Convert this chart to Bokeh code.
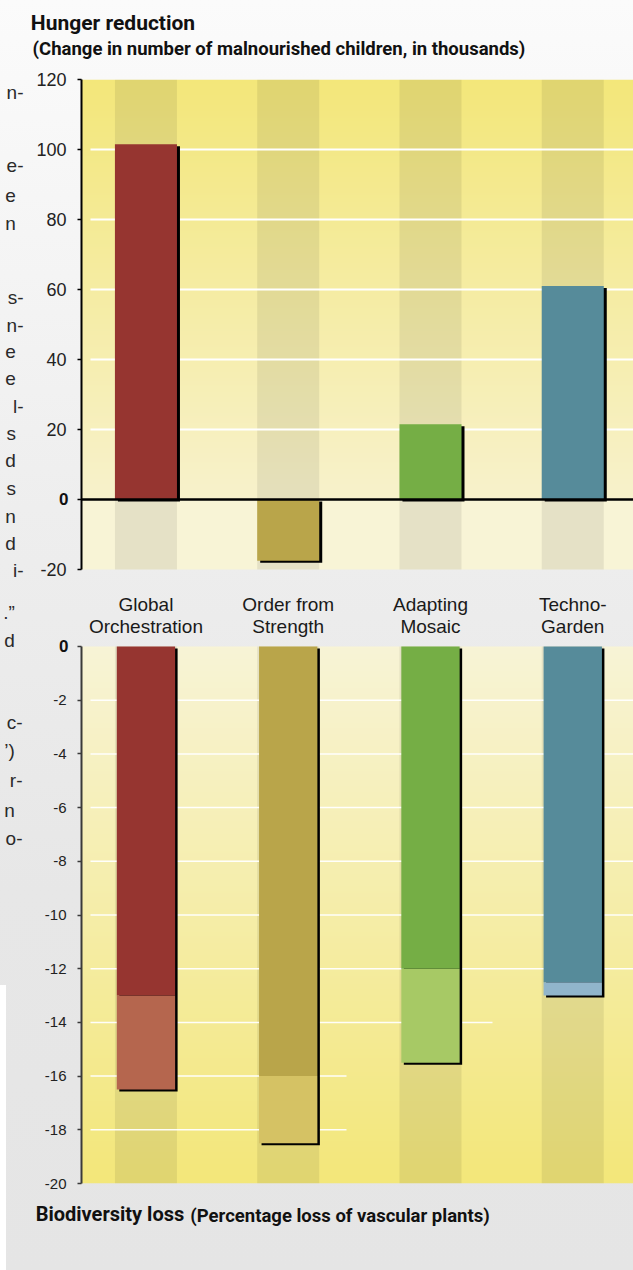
import numpy as np
from bokeh.plotting import figure
from bokeh.models import Range1d, LinearAxis, FixedTicker, Span, ColumnDataSource
from bokeh.core.properties import value
from bokeh.layouts import column
from bokeh.transform import dodge
from bokeh.embed import file_html
from bokeh.resources import INLINE

# ---------------- data ----------------
scenarios = ["Global Orchestration", "Order from Strength", "Adapting Mosaic", "Techno-Garden"]
label_line1 = ["Global", "Order from", "Adapting", "Techno-"]
label_line2 = ["Orchestration", "Strength", "Mosaic", "Garden"]
hunger_change = [101.5, -17.5, 21.5, 61.0]          # change in malnourished children (thousands)
biodiv_loss_core = [-13.0, -16.0, -12.0, -12.5]      # % loss of vascular plants (dark part)
biodiv_loss_full = [-16.5, -18.5, -15.5, -13.0]      # % loss of vascular plants (light extension)
hunger_ticks = [-20, 0, 20, 40, 60, 80, 100, 120]
biodiv_ticks = [0, -2, -4, -6, -8, -10, -12, -14, -16, -18, -20]
dark_colors = ["#963530", "#b9a54a", "#75ae45", "#568b9a"]
light_colors = ["#b5664e", "#d5c264", "#a7c965", "#91b5cb"]
margin_fragments = ["r-", "n-", "e-", "e", "n", "s-", "n-", "e", "e", "l-", "s", "d", "s",
                    "n", "d", "i-", ".\u201d", "d", "c-", "\u2019)", "r-", "n", "o-"]
title_top = "Hunger reduction"
subtitle_top = "(Change in number of malnourished children, in thousands)"
title_bottom = "Biodiversity loss"
subtitle_bottom = "(Percentage loss of vascular plants)"

# ---------------- layout constants ----------------
W = 633
HA = 580
HB = 1270 - HA
XR = (-0.453, 3.427)
FONT = "Liberation Sans"
TFONT = "Roboto"
frag_y = [62, 92, 165, 195, 223, 297, 325, 351, 378, 406, 433, 460, 488, 516, 543, 572,
          612, 640, 722, 750, 780, 810, 838]

idx = list(range(len(scenarios)))
SX = (W - 81) / (XR[1] - XR[0])


def pyA(py):            # page y -> data y in the hunger chart (0 at 499, 3.5 px/unit)
    return round(120 - (py - 79) * 140 / 490, 4)


def pyB(py):            # page y -> data y in the biodiversity chart (0 at 646, 26.85 px/unit)
    return round(-(py - 646) * 20 / 537, 4)


def px2x(px):
    return XR[0] + (px - 81) / SX


def gradient(stops, n=280):
    img = np.zeros((n, 1), dtype=np.uint32)
    view = img.view(dtype=np.uint8).reshape((n, 1, 4))
    fr = np.linspace(0, 1, n)
    fs = [s[0] for s in stops]
    for c in range(3):
        view[:, 0, c] = np.interp(fr, fs, [s[1][c] for s in stops]).astype(np.uint8)
    view[:, 0, 3] = 255
    return img


def base_fig(h, yr, top, bottom):
    p = figure(width=W, height=h, x_range=Range1d(*XR), y_range=Range1d(*yr),
               output_backend="svg", toolbar_location=None,
               x_axis_location=None, y_axis_location=None,
               min_border_left=81, min_border_right=0,
               min_border_top=top, min_border_bottom=bottom,
               border_fill_color=None, background_fill_color=None,
               outline_line_color=None)
    p.grid.visible = False
    return p


def plain_axis(ticks, labels, size, standoff, **kw):
    opts = dict(ticker=FixedTicker(ticks=ticks),
                major_label_overrides=dict(zip(ticks, labels)),
                axis_line_color=None, major_tick_line_color=None,
                major_tick_in=0, major_tick_out=0, minor_tick_line_color=None,
                major_label_text_font=FONT, major_label_text_font_size=size,
                major_label_text_color="#222222", major_label_standoff=standoff)
    opts.update(kw)
    return LinearAxis(**opts)


def title_axis(center_px, text, size, standoff):
    return plain_axis([round(px2x(center_px), 4)], [text], size, standoff,
                      major_label_text_font=TFONT, major_label_text_font_style="bold",
                      major_label_text_color="#111111")


def frag_text(t):
    # letters of the cut-off column end short of the hanging hyphens
    return t if t.endswith("-") else t + "\u2009\u2009"


def left_axes(p, ticks, size, line_color, frag_ys, frag_texts, frag_standoff):
    bounds = (min(ticks), max(ticks))
    # innermost: axis line, tick marks and the bold zero
    p.add_layout(plain_axis(ticks, ["0" if t == 0 else "" for t in ticks], "17px", 9,
                            bounds=bounds,
                            axis_line_color=line_color, axis_line_width=2,
                            major_tick_line_color=line_color, major_tick_line_width=1.5,
                            major_tick_out=4, major_label_text_font_style="bold",
                            major_label_text_color="#111111"), "left")
    # numeric tick labels
    nz = [t for t in ticks if t != 0]
    p.add_layout(plain_axis(nz, [str(t) for t in nz], size, -10, bounds=bounds), "left")
    # cut-off text of the neighbouring column
    p.add_layout(plain_axis(frag_ys, [frag_text(t) for t in frag_texts], "19px", frag_standoff,
                            major_label_text_color="#2a2a2a"), "left")


# ---------------- top chart: hunger ----------------
pA = base_fig(HA, (pyA(HA), 120), 79, 0)
imgA = gradient([(0.0, (248, 244, 214)), (0.1425, (248, 244, 214)),
                 (0.1435, (248, 242, 204)), (1.0, (243, 231, 122))])
pA.image_rgba(image=[imgA], x=XR[0], y=-20, dw=XR[1] - XR[0], dh=140, level="image")
pA.vbar(x=idx, width=0.436, top=120, bottom=-20, fill_color="black", fill_alpha=0.075,
        line_color=None, level="image")
gl = [t for t in hunger_ticks if 0 < t < 120]
pA.segment(x0=[px2x(90)] * len(gl), x1=[XR[1]] * len(gl), y0=gl, y1=gl,
           line_color="white", line_width=2, level="underlay")

srcA = ColumnDataSource(dict(x=idx, top=[max(v, 0) for v in hunger_change],
                             bottom=[min(v, 0) for v in hunger_change], color=dark_colors))
dxA, dyA = 3 / SX, 2 * 140 / 490
pA.vbar(x=dodge("x", dxA), width=0.436, top=dodge("top", -dyA), bottom=dodge("bottom", -dyA),
        source=srcA, fill_color="black", line_color=None)
pA.vbar(x="x", width=0.436, top="top", bottom="bottom", source=srcA,
        fill_color="color", line_color=None)
pA.add_layout(Span(location=0, dimension="width", line_color="black", line_width=2.5))

fragA = [(y, t) for y, t in zip(frag_y, margin_fragments) if 79 <= y < HA]
left_axes(pA, hunger_ticks, "18px", "black",
          [pyA(y) for y, _ in fragA], [t for _, t in fragA], 10)

pA.add_layout(title_axis(278.5, subtitle_top, "18.5px", 20), "above")
pA.add_layout(title_axis(112.5, title_top, "21px", 0), "above")

# ---------------- bottom chart: biodiversity ----------------
pB = base_fig(HB, (-20, pyB(HA)), 0, 1270 - 1183)
imgB = gradient([(0.0, (243, 231, 122)), (1.0, (248, 244, 214))])
pB.image_rgba(image=[imgB], x=XR[0], y=-20, dw=XR[1] - XR[0], dh=20, level="image")
pB.vbar(x=idx, width=0.436, top=0, bottom=-20, fill_color="black", fill_alpha=0.075,
        line_color=None, level="image")
glB = [t for t in biodiv_ticks if -20 < t < 0]
grid_end = {-14: px2x(492), -16: px2x(346), -18: px2x(346)}
pB.segment(x0=[px2x(90)] * len(glB), x1=[grid_end.get(t, XR[1]) for t in glB], y0=glB, y1=glB,
           line_color="white", line_width=1.5, line_alpha=0.95, level="underlay")

srcB = ColumnDataSource(dict(x=idx, core=biodiv_loss_core, full=biodiv_loss_full,
                             dark=dark_colors, light=light_colors, zero=[0] * 4))
dxB, dyB = 2.5 / SX, 2 * 20 / 537
pB.vbar(x=dodge("x", dxB), width=0.41, top=dodge("zero", -dyB), bottom=dodge("full", -dyB),
        source=srcB, fill_color="black", line_color=None)
pB.vbar(x="x", width=0.41, top="core", bottom="full", source=srcB,
        fill_color="light", line_color=None)
pB.vbar(x="x", width=0.41, top="zero", bottom="core", source=srcB,
        fill_color="dark", line_color=None)

# scenario names in the band between the two charts
for lines, py in ((label_line1, 604), (label_line2, 626)):
    pB.text(x=idx, y=[pyB(py)] * len(idx), text=lines, text_align="center",
            text_baseline="alphabetic", text_font=value(FONT), text_font_size="19px",
            text_color="#1a1a1a")

fragB = [(y, t) for y, t in zip(frag_y, margin_fragments) if y >= HA]
left_axes(pB, biodiv_ticks, "15px", "#3a3a3a",
          [pyB(y) for y, _ in fragB], [t for _, t in fragB], 19)

pB.add_layout(title_axis(109.5, title_bottom, "20px", 18), "below")
pB.add_layout(title_axis(339.5, subtitle_bottom, "18.5px", -24), "below")

page_bg = ("linear-gradient(#ffffff, #ffffff) left 0 top 985px / 6px 285px no-repeat, "
           "linear-gradient(to bottom, #fbfbfb 0%, #eeeeee 40%, #e7e7e7 70%, #e5e5e5 100%)")
layout = column(pA, pB, spacing=0, styles={"background": page_bg})

open("out.html", "w").write(file_html(layout, INLINE))
